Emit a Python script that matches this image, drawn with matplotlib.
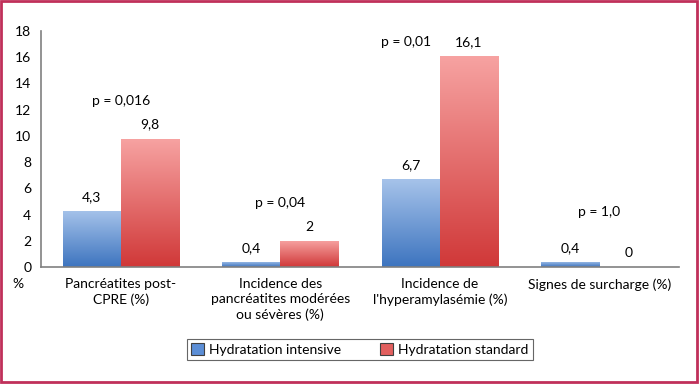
import numpy as np
import matplotlib.pyplot as plt
from matplotlib.colors import LinearSegmentedColormap
from matplotlib.patches import Rectangle, Patch

# Données
categories = ["Pancréatites post-\nCPRE (%)",
              "Incidence des\npancréatites modérées\nou sévères (%)",
              "Incidence de\nl'hyperamylasémie (%)",
              "Signes de surcharge (%)"]
intensive = [4.3, 0.4, 6.7, 0.4]
standard = [9.8, 2.0, 16.1, 0.0]
p_values = ["p = 0,016", "p = 0,04", "p = 0,01", "p = 1,0"]
series_names = ["Hydratation intensive", "Hydratation standard"]
y_ticks = [0, 2, 4, 6, 8, 10, 12, 14, 16, 18]

plt.rcParams['font.family'] = ['Lato', 'DejaVu Sans']
FS = 10

fig = plt.figure(figsize=(7, 3.86), dpi=100)
ax = fig.add_axes([41 / 700, 119 / 386, 638 / 700, 236 / 386])

cmap_bleu = LinearSegmentedColormap.from_list("bleu", ["#3d74bf", "#a6c3ea"])
cmap_rouge = LinearSegmentedColormap.from_list("rouge", ["#d03838", "#f7a3a2"])
grad = np.linspace(0, 1, 256).reshape(-1, 1)

w = 0.365
x = np.arange(len(categories))


def barre_degrade(xc, h, cmap):
    if h <= 0:
        return
    x0, x1 = xc - w / 2, xc + w / 2
    im = ax.imshow(grad, extent=[x0, x1, 0, h], origin='lower', aspect='auto',
                   cmap=cmap, zorder=2, interpolation='bicubic')
    rect = Rectangle((x0, 0), w, h, facecolor='none', edgecolor='none')
    ax.add_patch(rect)
    im.set_clip_path(rect)


def fmt(v):
    return ("%g" % v).replace(".", ",")


for i in x:
    barre_degrade(i - w / 2, intensive[i], cmap_bleu)
    barre_degrade(i + w / 2, standard[i], cmap_rouge)
    ax.text(i - w / 2, intensive[i] + 0.6, fmt(intensive[i]), ha='center', va='bottom', fontsize=FS)
    ax.text(i + w / 2, standard[i] + 0.6, fmt(standard[i]), ha='center', va='bottom', fontsize=FS)
    top = max(intensive[i], standard[i])
    if top > 15:
        # trop haut : l'étiquette p se place à gauche, au-dessus de la barre bleue
        px, py = i - 0.21, 16.7
    elif top > 1:
        px, py = i, top + 2.4
    else:
        px, py = i, top + 3.3
    ax.text(px, py, p_values[i], ha='center', va='bottom', fontsize=FS)

ax.set_xlim(-0.5, 3.5)
ax.set_ylim(0, 18)
ax.set_yticks(y_ticks)
ax.set_xticks(x)
ax.set_xticklabels(categories, fontsize=FS, linespacing=1.3)
ax.tick_params(axis='both', length=0, labelsize=FS)
ax.tick_params(axis='x', pad=8)
ax.tick_params(axis='y', pad=7)
for s in ['top', 'right']:
    ax.spines[s].set_visible(False)
for s in ['left', 'bottom']:
    ax.spines[s].set_color('#808080')
    ax.spines[s].set_linewidth(1.2)

fig.text(12 / 700, 1 - 284 / 386, "%", fontsize=FS, ha='left', va='center')

handles = [Patch(facecolor="#5b8ed6", edgecolor="#404040", linewidth=0.8),
           Patch(facecolor="#e25f5e", edgecolor="#404040", linewidth=0.8)]
leg = fig.legend(handles, series_names, loc='center', bbox_to_anchor=(360 / 700, 1 - 349.5 / 386),
                 ncol=2, fontsize=FS, frameon=True, fancybox=False, handlelength=0.9,
                 handleheight=0.9, handletextpad=0.4, columnspacing=2.8, borderpad=0.3)
leg.get_frame().set_edgecolor('#404040')
leg.get_frame().set_linewidth(0.8)

# cadre de la figure
fig.patches.append(Rectangle((0.002, 0.01), 0.994, 0.988, transform=fig.transFigure,
                             fill=False, edgecolor='#c0305a', linewidth=2))

fig.savefig("out.png", dpi=100)
